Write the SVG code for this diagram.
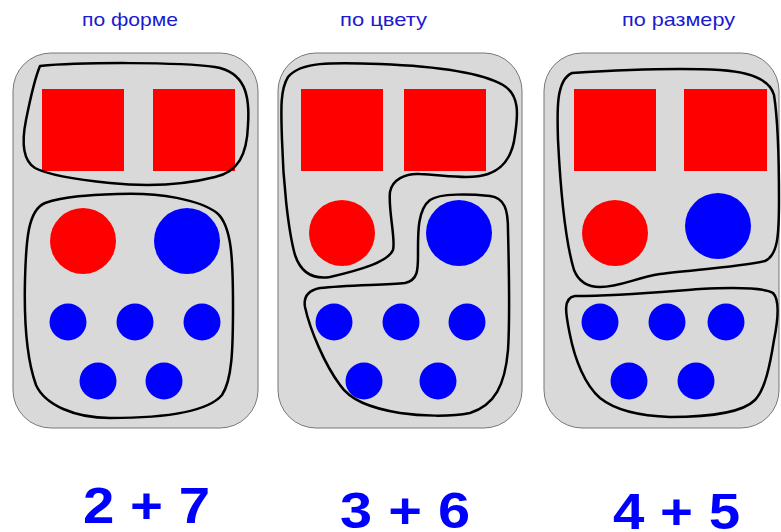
<svg xmlns="http://www.w3.org/2000/svg" width="781" height="532" viewBox="0 0 781 532">
<style>
.panel{fill:#d9d9d9;stroke:#777;stroke-width:1}
.sq{fill:#ff0000}
.red{fill:#ff0000}
.blue{fill:#0000ff}
.loop{fill:none;stroke:#000;stroke-width:2.5;stroke-linejoin:round}
.title{font-family:"Liberation Sans",Arial,sans-serif;font-size:19px;fill:#1a1ad0}
.num{font-family:"Liberation Sans",Arial,sans-serif;font-size:50px;font-weight:bold;fill:#0000ff}
</style>
<rect width="781" height="532" fill="#fff"/>
<g id="titles">
<text class="title" x="82" y="26" textLength="96" lengthAdjust="spacingAndGlyphs">по форме</text>
<text class="title" x="340" y="26" textLength="87" lengthAdjust="spacingAndGlyphs">по цвету</text>
<text class="title" x="622" y="26" textLength="113" lengthAdjust="spacingAndGlyphs">по размеру</text>
</g>
<g id="panel1">
<rect class="panel" x="13" y="53" width="245" height="375" rx="38"/>
<rect class="sq" x="42" y="89" width="82" height="82"/>
<rect class="sq" x="153" y="89" width="82" height="82"/>
<circle class="red" cx="83" cy="241" r="33"/>
<circle class="blue" cx="187" cy="241" r="33"/>
<circle class="blue" cx="68" cy="322" r="18.5"/>
<circle class="blue" cx="135" cy="322" r="18.5"/>
<circle class="blue" cx="202" cy="322" r="18.5"/>
<circle class="blue" cx="98" cy="381" r="18.5"/>
<circle class="blue" cx="164" cy="381" r="18.5"/>
<path class="loop" d="M40,66 C80,62 180,62 215,67 C245,72 250,95 248,125 C247,155 238,172 215,177 C180,186 140,186 110,183 C80,180 50,176 35,168 C22,160 22,140 26,120 C30,100 34,80 40,66 Z"/>
<path class="loop" d="M117,194 C160,192 200,200 217,213 C232,226 233,260 233,307 C233,350 232,380 222,395 C205,415 150,418 110,418 C75,418 45,405 36,385 C27,360 24,320 25,280 C26,240 28,210 45,203 C65,196 90,195 117,194 Z"/>
</g>
<g id="panel2">
<rect class="panel" x="278" y="53" width="244" height="375" rx="38"/>
<rect class="sq" x="301" y="89" width="82" height="82"/>
<rect class="sq" x="404" y="89" width="82" height="82"/>
<circle class="red" cx="342" cy="233" r="33"/>
<circle class="blue" cx="459" cy="233" r="33"/>
<circle class="blue" cx="334" cy="322" r="18.5"/>
<circle class="blue" cx="401" cy="322" r="18.5"/>
<circle class="blue" cx="467" cy="322" r="18.5"/>
<circle class="blue" cx="364" cy="381" r="18.5"/>
<circle class="blue" cx="438" cy="381" r="18.5"/>
<path class="loop" d="M288,77 C300,62 330,62 380,64 C430,66 480,72 503,85 C520,95 518,115 515,135 C512,160 500,170 488,174 C470,180 445,175 420,174 C405,173 392,180 390,192 C388,210 396,240 393,250 C388,262 360,270 330,277 C310,280 300,270 295,255 C288,230 283,180 282,140 C281,110 280,90 288,77 Z"/>
<path class="loop" d="M430,200 C440,193 470,194 490,196 C505,198 508,210 508,230 C509,270 510,320 508,350 C505,385 495,405 470,413 C450,417 420,416 400,413 C370,408 350,400 340,385 C325,365 310,330 305,307 C303,295 310,290 320,288 C345,285 385,285 405,283 C418,280 418,270 418,255 C418,235 417,210 430,200 Z"/>
</g>
<g id="panel3">
<rect class="panel" x="544" y="53" width="235" height="375" rx="38"/>
<rect class="sq" x="574" y="89" width="82" height="82"/>
<rect class="sq" x="684" y="89" width="83" height="82"/>
<circle class="red" cx="615" cy="233" r="33"/>
<circle class="blue" cx="718" cy="226" r="33"/>
<circle class="blue" cx="600" cy="322" r="18.5"/>
<circle class="blue" cx="667" cy="322" r="18.5"/>
<circle class="blue" cx="726" cy="322" r="18.5"/>
<circle class="blue" cx="629" cy="381" r="18.5"/>
<circle class="blue" cx="696" cy="381" r="18.5"/>
<path class="loop" d="M572,73 C620,70 680,68 720,70 C750,72 770,80 774,95 C778,120 779,160 779,200 C779,235 778,255 765,261 C740,267 690,270 660,274 C635,278 620,287 600,287 C585,287 578,280 574,270 C565,240 560,180 558,140 C557,110 556,80 572,73 Z"/>
<path class="loop" d="M575,296 C620,296 660,292 700,289 C740,287 765,288 773,293 C780,300 778,320 774,340 C770,365 765,390 755,400 C740,415 700,417 670,417 C640,416 615,410 600,398 C585,385 575,360 570,335 C566,315 562,298 575,296 Z"/>
</g>
<g id="sums">
<text class="num" x="83" y="523" textLength="127" lengthAdjust="spacingAndGlyphs">2 + 7</text>
<text class="num" x="340" y="528" textLength="130" lengthAdjust="spacingAndGlyphs">3 + 6</text>
<text class="num" x="613" y="529" textLength="127" lengthAdjust="spacingAndGlyphs">4 + 5</text>
</g>
</svg>
